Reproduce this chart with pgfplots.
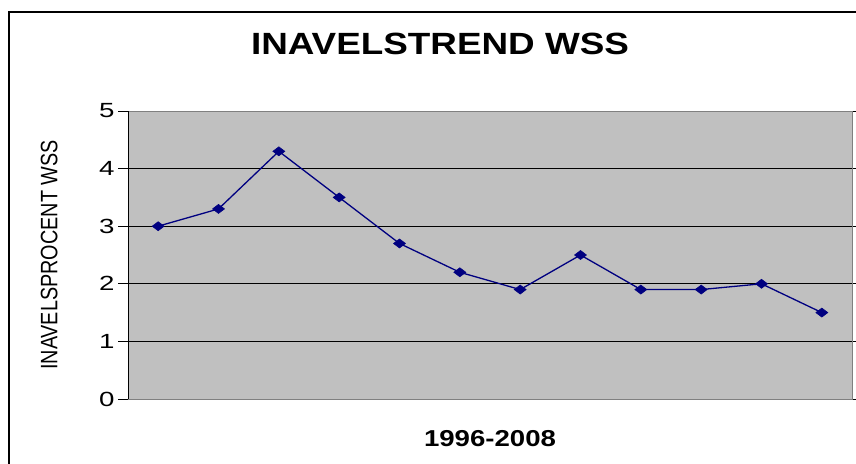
\documentclass[border=0pt]{standalone}
\usepackage{fontspec}
\setmainfont{Liberation Sans}
\newfontfamily\stretchfont[FakeStretch=1.2]{Liberation Sans}
\newfontfamily\digitfont[FakeStretch=1.35]{Liberation Sans}
\usepackage{pgfplots}
\pgfplotsset{compat=1.18}
\definecolor{plotgray}{HTML}{C0C0C0}
\definecolor{bordergray}{HTML}{808080}
\definecolor{navyline}{HTML}{000080}
\begin{document}
\begin{tikzpicture}[x=1pt,y=1pt]
\useasboundingbox (0,0) rectangle (856,463);
\draw[line width=2pt] (9,-5) -- (9,451) -- (870,451);
\node[anchor=base, font=\stretchfont\bfseries\fontsize{30.7}{34}\selectfont] at (440,408) {INAVELSTREND WSS};
\begin{axis}[
  at={(128pt,64pt)}, anchor=south west,
  scale only axis, width=724pt, height=288pt,
  xmin=0.5, xmax=12.5, ymin=0, ymax=5,
  ytick={0,1,2,3,4,5}, xtick=\empty,
  axis background/.style={fill=plotgray},
  axis line style={draw=bordergray, line width=1pt},
  ymajorgrids, grid style={black, line width=0.8pt},
  tick align=outside, major tick length=10pt,
  tick style={black, line width=0.8pt},
  /pgf/number format/assume math mode=true,
  yticklabel style={font=\digitfont\fontsize{20.5}{22}\selectfont},
  xlabel={\stretchfont\bfseries\fontsize{23}{25}\selectfont 1996-2008},
  xlabel style={at={(axis description cs:0.5,0)}, anchor=base, yshift=-47pt},
  ylabel={\scalebox{1}[1.2]{\fontsize{19.8}{22}\selectfont INAVELSPROCENT WSS}},
  ylabel style={at={(axis description cs:-0.109,0.5)}, anchor=center, rotate=0},
  clip=false,
]
\draw[black, line width=1pt] (rel axis cs:0,0) -- (rel axis cs:0,1);
\addplot[navyline, line width=1.3pt, mark=diamond*, mark size=5.5pt,
  mark options={xscale=1.45, yscale=0.82, fill=navyline, draw=navyline, line width=0.6pt}]
  coordinates {(1,3.0) (2,3.3) (3,4.3) (4,3.5) (5,2.7) (6,2.2) (7,1.9) (8,2.5) (9,1.9) (10,1.9) (11,2.0) (12,1.5)};
\end{axis}
\end{tikzpicture}
\end{document}
